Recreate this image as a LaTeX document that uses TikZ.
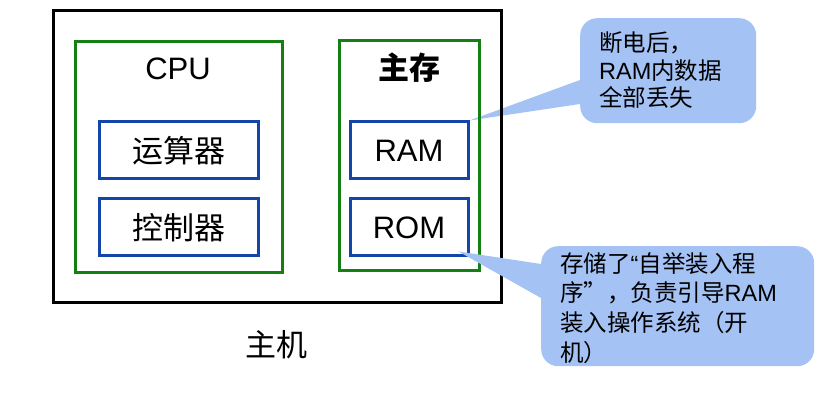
\documentclass[tikz,border=0pt]{standalone}
\usepackage{fontspec}
\setmainfont{Liberation Sans}
\newfontfamily\cjk{Noto Sans CJK SC}
\usetikzlibrary{positioning, backgrounds}
\definecolor{greenline}{RGB}{20,128,20}
\definecolor{blueline}{RGB}{20,70,170}
\definecolor{notefill}{RGB}{164,194,244}
\tikzset{
  host/.style={rectangle, draw=black, line width=3pt, inner sep=0pt},
  part/.style={rectangle, draw=greenline, line width=3pt, inner sep=0pt},
  unit/.style={rectangle, draw=blueline, line width=3pt, inner sep=0pt,
    minimum height=57pt, font=\fontsize{31}{36}\selectfont},
  title/.style={inner sep=0pt, font=\fontsize{31}{36}\selectfont},
  note/.style={rectangle, fill=notefill, rounded corners=17pt, inner sep=0pt},
  notetext/.style={inner sep=0pt, align=left, anchor=north west}
}

\begin{document}
\begin{tikzpicture}[x=1pt, y=-1pt]
  \useasboundingbox (0,0) rectangle (839,403);

  %% -- 主机 ---------------------------------------------
  \node[host, minimum width=448pt, minimum height=292pt] (host) at (277,157) {};
  \node[title] (hostlbl) at (276,345) {\cjk 主机};

  %% -- CPU ----------------------------------------------
  \node[part, minimum width=207pt, minimum height=231pt] (cpu) at (178.5,157.5) {};
  \node[title] (cpulbl) at (178,69) {CPU};
  \node[unit, minimum width=159pt] (alu) at (178.5,150.5) {\cjk 运算器};
  \node[unit, minimum width=159pt, below=17pt of alu] (ctrl) {\cjk 控制器};

  %% -- 主存 ---------------------------------------------
  \node[part, minimum width=140pt, minimum height=230pt] (mem) at (409,156) {};
  \node[title] (memlbl) at (409,68) {\cjk\bfseries 主存};
  \node[unit, minimum width=118pt] (ram) at (409,150.5) {RAM};
  \node[unit, minimum width=118pt, below=17pt of ram] (rom) {ROM};

  %% 说明框 1 (在框线后面)
  \begin{scope}[on background layer]
    \node[note, minimum width=176pt, minimum height=105pt, anchor=north west]
      (ramnote) at (580,18) {};
    \coordinate (r1) at ([yshift=-62]ramnote.north west);
    \coordinate (r2) at ([yshift=-86]ramnote.north west);
    \fill[notefill] (r1) -- (ram.north east) -- (r2) -- cycle;
  \end{scope}
  \node[notetext, font=\fontsize{23.5}{27.5}\selectfont]
    (ramtxt) at ([shift={(19,14)}]ramnote.north west)
    {\cjk 断电后，\\RAM{\cjk 内数据}\\\cjk 全部丢失};

  %% 说明框 2 (盖在框线上面)
  \node[note, minimum width=273pt, minimum height=120pt, anchor=north west]
    (romnote) at (541,246) {};
  \coordinate (o1) at ([yshift=-18]romnote.north west);
  \coordinate (o2) at ([yshift=-52]romnote.north west);
  \coordinate (otip) at ([shift={(-11,-6)}]rom.south east);
  \fill[notefill] (o1) -- (otip) -- (o2) -- cycle;
  \node[notetext, font=\fontsize{23.5}{29.7}\selectfont]
    (romtxt) at ([shift={(19,6)}]romnote.north west)
    {\cjk 存储了{\rmfamily “}自举装入程\\\cjk 序”，负责引导{\rmfamily RAM}\\\cjk 装入操作系统（开\\\cjk 机）};

\end{tikzpicture}
\end{document}
